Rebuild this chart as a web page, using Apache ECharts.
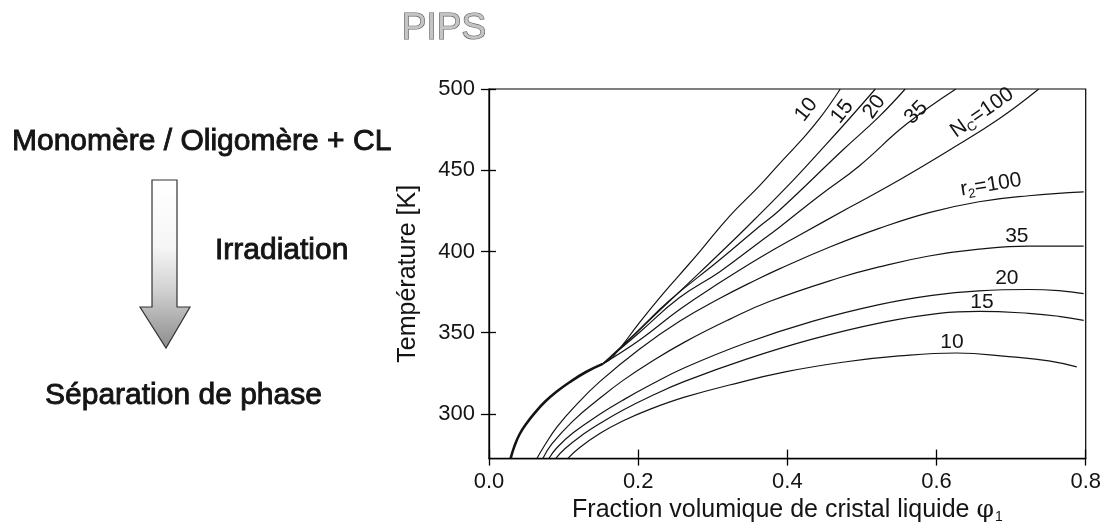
<!DOCTYPE html>
<html><head><meta charset="utf-8">
<script src="https://cdn.jsdelivr.net/npm/echarts@6/dist/echarts.min.js"></script>
<style>html,body{margin:0;padding:0;background:#fff}#c{width:1104px;height:529px}</style>
</head><body><div id="c"></div>
<script>
// ---- data ----
const xTicks = [0, 0.2, 0.4, 0.6, 0.8];
const yTicks = [300, 350, 400, 450, 500];

// shared (overlapping) low branch of the N_c curves
const commonBranch = [[0.029,272.6],[0.034,280],[0.041,287.5],[0.05,294],[0.062,301],[0.075,307.5],[0.09,313.5],[0.108,319.5],[0.13,325.8],[0.1525,330.8]];

// N_c family (steep curves)
const nc10  = [[0.1525,330.8],[0.166,335.1],[0.202,356.4],[0.229,371.6],[0.2555,385.6],[0.282,399.6],[0.322,421.5],[0.3625,440.4],[0.389,453.8],[0.416,467.1],[0.443,481.7],[0.471,500]];
const nc15  = [[0.1525,330.8],[0.182,343.0],[0.229,363.7],[0.282,386.8],[0.336,410.6],[0.3625,422.7],[0.407,443.4],[0.452,465.9],[0.483,481.7],[0.518,500]];
const nc20  = [[0.1525,330.8],[0.195,349.1],[0.242,369.8],[0.309,394.7],[0.3625,415.4],[0.389,425.2],[0.474,462.3],[0.523,483.0],[0.558,500]];
const nc35  = [[0.1525,330.8],[0.202,350.3],[0.2555,371.6],[0.309,387.4],[0.3625,405.7],[0.389,414.8],[0.443,434.3],[0.496,452.5],[0.559,478.1],[0.626,500]];
const nc100 = [[0.1525,330.8],[0.202,345.5],[0.2555,364.3],[0.309,380.7],[0.3625,396.0],[0.416,410.0],[0.483,427.0],[0.550,444.0],[0.617,462.3],[0.684,481.7],[0.737,500]];

// r_2 family (flat curves)
const r2_100 = [[0.0642,272.6],[0.0749,280.9],[0.091,291.9],[0.1151,304.7],[0.1485,319.9],[0.202,340.0],[0.2555,357.0],[0.309,371.0],[0.3585,382.6],[0.3893,389.3],[0.4562,402.6],[0.5231,414.2],[0.59,423.9],[0.6569,430.6],[0.7237,434.3],[0.7973,436.7]];
const r2_35  = [[0.0722,272.6],[0.0843,281.5],[0.1124,295.6],[0.1485,309.6],[0.1793,320.5],[0.2154,331.5],[0.2622,344.2],[0.3224,358.2],[0.3759,369.2],[0.4696,383.8],[0.5231,390.5],[0.59,397.2],[0.6569,401.4],[0.7237,403.3],[0.7973,403.3]];
const r2_20  = [[0.0803,272.6],[0.091,279.2],[0.1124,288.2],[0.1485,299.8],[0.1793,308.4],[0.2154,317.6],[0.2622,328.4],[0.3452,343.8],[0.4334,357.0],[0.5231,367.3],[0.594,373.0],[0.6569,375.8],[0.7237,376.6],[0.7639,375.9],[0.7973,374.1]];
const r2_15  = [[0.0896,272.6],[0.1017,278.6],[0.1258,287.3],[0.1485,294.1],[0.1793,302.3],[0.2154,310.6],[0.2622,320.0],[0.3452,333.7],[0.4334,346.0],[0.5231,355.9],[0.6033,361.9],[0.6569,363.1],[0.7237,361.9],[0.7639,360.1],[0.7973,357.6]];
const r2_10  = [[0.1057,272.6],[0.1217,279.3],[0.1485,287.9],[0.1793,295.6],[0.2154,302.8],[0.2622,310.3],[0.3224,317.8],[0.3987,326.0],[0.4789,332.1],[0.5498,335.7],[0.6261,337.5],[0.701,335.1],[0.7505,332.7],[0.788,329.0]];

// curve labels: text, anchor (data coords), rotation (deg)
const curveLabels = [
  ['10', 0.4254, 487.2, 52],
  ['15', 0.4736, 486.0, 52],
  ['20', 0.5164, 489.0, 55],
  ['35', 0.5726, 485.4, 45],
  ['{a|N}{s|C}{a|=100}', 0.661, 485.4, 35],
  ['{a|r}{s|2}{a|=100}', 0.673, 441.0, 9],
  ['35', 0.7077, 409.3, 0],
  ['20', 0.6943, 383.8, 0],
  ['15', 0.6609, 368.6, 0],
  ['10', 0.6207, 344.2, 0]
];

// ---- chart ----
const FONT = '"Liberation Sans", Arial, sans-serif';
const INK = '#141414';
const chart = echarts.init(document.getElementById('c'), null, {renderer:'canvas'});

function line(data, w) {
  return {type:'line', data:data, showSymbol:false, symbol:'none', smooth:0.45,
    lineStyle:{color:INK, width:w||1.2}, xAxisIndex:0, yAxisIndex:0, silent:true, z:3};
}

const axisLS = {color:'#000', width:1.3};
const option = {
  animation:false,
  backgroundColor:'#fff',
  grid:{left:489, right:17, top:89, bottom:66, show:true, borderColor:'#000', borderWidth:1.2, backgroundColor:'transparent'},
  xAxis:[{
    type:'value', min:0, max:0.8, interval:0.2,
    axisLine:{show:true, onZero:false, lineStyle:axisLS},
    axisTick:{show:true, length:7, lineStyle:axisLS},
    axisLabel:{margin:12, fontSize:22, color:INK, fontFamily:FONT, formatter:v=>v.toFixed(1), showMaxLabel:true, showMinLabel:true},
    splitLine:{show:false},
    name:'Fraction volumique de cristal liquide {p|φ}{s|1}', nameLocation:'middle', nameGap:32,
    nameTextStyle:{fontSize:25, color:INK, fontFamily:FONT, verticalAlign:'top',
      rich:{p:{fontSize:25, fontFamily:'"DejaVu Serif", serif', color:INK}, s:{fontSize:14, verticalAlign:'bottom', padding:[14,0,0,1], color:INK, fontFamily:FONT}}}
  },{
    type:'value', min:0, max:0.8, interval:0.2, position:'bottom',
    axisLine:{show:false}, axisLabel:{show:false}, splitLine:{show:false},
    axisTick:{show:true, inside:true, length:9, lineStyle:axisLS}
  }],
  yAxis:[{
    type:'value', min:272.5, max:500,
    axisLine:{show:true, onZero:false, lineStyle:axisLS},
    axisTick:{show:true, length:8, customValues:yTicks, lineStyle:axisLS},
    axisLabel:{margin:14, fontSize:22, color:INK, fontFamily:FONT, customValues:yTicks},
    splitLine:{show:false},
    name:'Température [K]', nameLocation:'middle', nameGap:68, nameRotate:90,
    nameTextStyle:{fontSize:25, color:INK, fontFamily:FONT}
  },{
    type:'value', min:272.5, max:500, position:'left',
    axisLine:{show:false}, axisLabel:{show:false, customValues:yTicks}, splitLine:{show:false},
    axisTick:{show:true, inside:true, length:7, customValues:yTicks, lineStyle:axisLS}
  }],
  series:[
    line(commonBranch, 2.6),
    line(nc10), line(nc15), line(nc20), line(nc35), line(nc100),
    line(r2_100), line(r2_35), line(r2_20), line(r2_15), line(r2_10)
  ]
};
chart.setOption(option);

// ---- decorations (left diagram, title, curve labels) ----
const g = [];
g.push({type:'text', id:'pips', x:444, y:29, z:10, style:{text:'PIPS', font:'37px '+FONT, fill:'#c4c4c4', stroke:'#5e5e5e', lineWidth:1.2, align:'center', verticalAlign:'middle'}});
const leftStyle = {font:'30px '+FONT, fill:INK, stroke:INK, lineWidth:0.9, align:'left', verticalAlign:'middle'};
g.push({type:'text', id:'t1', x:12, y:142, z:10, style:Object.assign({text:'Monomère / Oligomère + CL'}, leftStyle)});
g.push({type:'text', id:'t2', x:215, y:251, z:10, style:Object.assign({text:'Irradiation'}, leftStyle)});
g.push({type:'text', id:'t3', x:45, y:396, z:10, style:Object.assign({text:'Séparation de phase'}, leftStyle)});
g.push({type:'polygon', id:'arrow', z:5,
  shape:{points:[[152,180],[177,180],[177,307],[190,307],[166,348],[140,307],[152,307]]},
  style:{fill:{type:'linear', x:0, y:0, x2:0, y2:1, colorStops:[
    {offset:0, color:'#ffffff'},{offset:0.4, color:'#f6f6f6'},{offset:0.65, color:'#d2d2d2'},{offset:1, color:'#8c8c8c'}]},
    stroke:'#333', lineWidth:1.2}});
curveLabels.forEach((c, i) => {
  const p = chart.convertToPixel({xAxisIndex:0, yAxisIndex:0}, [c[1], c[2]]);
  g.push({type:'text', id:'lab'+i, x:p[0], y:p[1], rotation:c[3]*Math.PI/180, z:10,
    style:{text:c[0], font:'21px '+FONT, fill:INK, align:'center', verticalAlign:'middle',
      rich:{a:{fontSize:21, fontFamily:FONT, fill:INK}, s:{fontSize:13, fontFamily:FONT, fill:INK, padding:[12,0,0,0]}}}});
});
chart.setOption({graphic:g});
</script></body></html>
